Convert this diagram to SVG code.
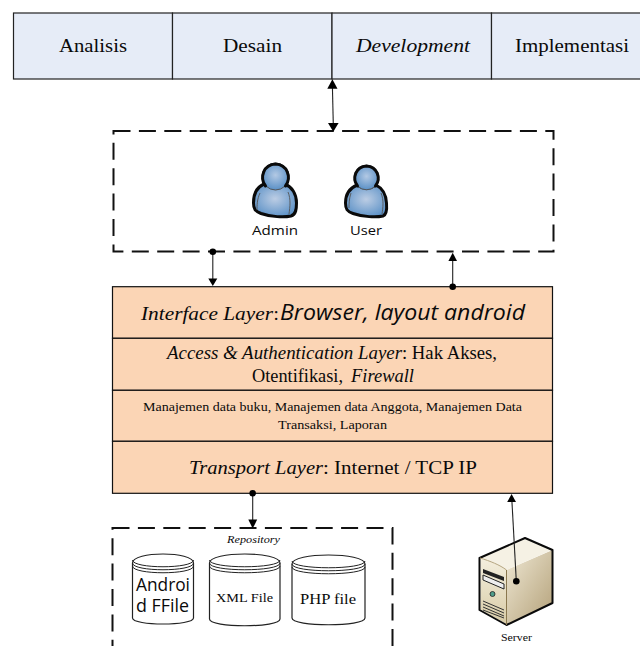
<svg xmlns="http://www.w3.org/2000/svg" width="640" height="646" viewBox="0 0 640 646">
<style>
text{font-family:"Liberation Serif","Times New Roman",serif;fill:#0a0a0a}
.i{font-style:italic}
.s{font-family:"Open Sans","DejaVu Sans",sans-serif}
.t{font-size:18px}
.box{fill:#e6ecf7;stroke:#222;stroke-width:1.2}
.lay{fill:#fbd5b5;stroke:#111;stroke-width:1.2}
.dash{fill:none;stroke:#111;stroke-width:2;stroke-dasharray:17 8.4}
.c{stroke:#222;stroke-width:1.1;fill:none}
.h{fill:#000}
.cyl{fill:#fff;stroke:#222;stroke-width:1.2}
.cl{fill:none;stroke:#222;stroke-width:1}
.u{stroke:#0a0a0a;stroke-width:3;fill:url(#ub);stroke-linejoin:round}
.uh{stroke:#555;stroke-width:1;fill:url(#uh)}
.ua{stroke:#0a0a0a;stroke-width:3;fill:none;stroke-linecap:round}
.f{fill:none;stroke:#555;stroke-width:.9}
</style>
<defs>
<radialGradient id="ub" cx=".5" cy=".45" r=".6"><stop offset="0" stop-color="#bccde4"/><stop offset="1" stop-color="#5a90c6"/></radialGradient>
<radialGradient id="uh" cx=".5" cy=".45" r=".55"><stop offset="0" stop-color="#b3c9e4"/><stop offset="1" stop-color="#5a90c6"/></radialGradient>
<linearGradient id="sf" x1="0" y1="0" x2="0" y2="1"><stop offset="0" stop-color="#f4efde"/><stop offset="1" stop-color="#d8cba6"/></linearGradient>
<linearGradient id="ss" x1="0" y1="0" x2="1" y2="1"><stop offset="0" stop-color="#efe8d4"/><stop offset="1" stop-color="#b3a078"/></linearGradient>
</defs>

<g id="phase-analisis"><rect class="box" x="13.500" y="13" width="159" height="66"/><text class="t" x="59" y="52" textLength="68" lengthAdjust="spacingAndGlyphs">Analisis</text></g>
<g id="phase-desain"><rect class="box" x="172.500" y="13" width="159.500" height="66"/><text class="t" x="223" y="52" textLength="59" lengthAdjust="spacingAndGlyphs">Desain</text></g>
<g id="phase-development"><rect class="box" x="332" y="13" width="159.500" height="66"/><text class="t i" x="356" y="52" textLength="114" lengthAdjust="spacingAndGlyphs">Development</text></g>
<g id="phase-implementasi"><rect class="box" x="491.500" y="13" width="149.500" height="66"/><text class="t" x="515" y="52" textLength="114" lengthAdjust="spacingAndGlyphs">Implementasi</text></g>

<g id="actors">
<rect class="dash" x="113.500" y="131" width="440" height="120.500"/>
</g>
<g id="admin">
<path class="u" d="M264 184C257 187 253.500 193 253.500 203C253.500 209 255 211 261 213.500C271 217 284 217.500 291 216C296 214.500 296.500 209 296.500 203C296.500 194 292 187 285 184C279 188 271 188 264 184Z"/>
<circle class="uh" cx="275.500" cy="176.500" r="13.500"/>
<path class="ua" d="M265.500 186C259 177 264 164.500 275.500 164C287 164.500 292 177 285.500 186"/>
<path class="f" d="M260 193C257 199 257 206 257 210M288 192C291 199 290 207 289 214"/>
<text class="s" x="252" y="235" font-size="13.500" textLength="46" lengthAdjust="spacingAndGlyphs">Admin</text>
</g>
<g id="user">
<path class="u" d="M357 185C350 188 345.500 194 345.500 203C345.500 209 347 211.500 353 213.500C363 217 376 217.500 383 216C387 214.500 387 209 386.500 203C386 194 382 188 376 185C370 189 363 189 357 185Z"/>
<circle class="uh" cx="366.500" cy="177.500" r="12.300"/>
<path class="ua" d="M357.500 186C351.500 178 356 166.500 366.500 166C377 166.500 381.500 178 375.500 186"/>
<path class="f" d="M351 193C349 199 349 204 349 208M381 193C384 200 383 208 382 214"/>
<text class="s" x="350" y="235" font-size="13.500" textLength="32" lengthAdjust="spacingAndGlyphs">User</text>
</g>

<g id="layer-interface"><rect class="lay" x="112.500" y="286.700" width="440" height="51.600"/>
<text class="i" x="141" y="319.500" font-size="19" textLength="132" lengthAdjust="spacingAndGlyphs">Interface Layer</text>
<text x="273.500" y="319.500" font-size="19">:</text>
<text class="s i" x="280" y="319.500" font-size="21.500" textLength="245" lengthAdjust="spacingAndGlyphs">Browser, layout android</text></g>
<g id="layer-access"><rect class="lay" x="112.500" y="338.300" width="440" height="52"/>
<text class="i" x="167" y="359" font-size="18" textLength="235" lengthAdjust="spacingAndGlyphs">Access &amp; Authentication Layer</text>
<text x="402" y="359" font-size="18" textLength="95" lengthAdjust="spacingAndGlyphs">: Hak Akses,</text>
<text x="252" y="381.700" font-size="18" textLength="91" lengthAdjust="spacingAndGlyphs">Otentifikasi,</text>
<text class="i" x="351" y="381.700" font-size="18" textLength="63" lengthAdjust="spacingAndGlyphs">Firewall</text></g>
<g id="layer-manajemen"><rect class="lay" x="112.500" y="390.300" width="440" height="51"/>
<text x="143" y="411" font-size="13.500" textLength="379" lengthAdjust="spacingAndGlyphs">Manajemen data buku, Manajemen data Anggota, Manajemen Data</text>
<text x="278" y="429" font-size="13.500" textLength="109" lengthAdjust="spacingAndGlyphs">Transaksi, Laporan</text></g>
<g id="layer-transport"><rect class="lay" x="112.500" y="441.300" width="440" height="52"/>
<text class="i" x="189" y="474" font-size="19" textLength="134" lengthAdjust="spacingAndGlyphs">Transport Layer</text>
<text x="323" y="474" font-size="19" textLength="154" lengthAdjust="spacingAndGlyphs">: Internet / TCP IP</text></g>

<g id="repository">
<rect class="dash" x="112.500" y="528" width="280" height="140"/>
<text class="i" x="227" y="543" font-size="10.500" textLength="53" lengthAdjust="spacingAndGlyphs">Repository</text>
</g>
<g id="file-android">
<path class="cyl" d="M132.500 563C132.500 551 193.500 551 193.500 563V618C193.500 626 132.500 626 132.500 618Z"/>
<path class="cl" d="M132.500 563C132.500 572 193.500 572 193.500 563M132.500 566C132.500 575 193.500 575 193.500 566M132.500 560C132.500 569 193.500 569 193.500 560"/>
<text class="s" x="136" y="590.700" font-size="19" textLength="54" lengthAdjust="spacingAndGlyphs">Androi</text>
<text class="s" x="136" y="611.700" font-size="19" textLength="53" lengthAdjust="spacingAndGlyphs">d FFile</text>
</g>
<g id="file-xml">
<path class="cyl" d="M209.500 563C209.500 551 280 551 280 563V619C280 628 209.500 628 209.500 619Z"/>
<path class="cl" d="M209.500 563C209.500 572 280 572 280 563M209.500 566C209.500 575 280 575 280 566M209.500 560C209.500 569 280 569 280 560"/>
<text x="216" y="602" font-size="13.500" textLength="57" lengthAdjust="spacingAndGlyphs">XML File</text>
</g>
<g id="file-php">
<path class="cyl" d="M292 564C292 552 365 552 365 564V618C365 627 292 627 292 618Z"/>
<path class="cl" d="M292 564C292 573 365 573 365 564M292 567C292 576 365 576 365 567M292 561C292 570 365 570 365 561"/>
<text x="300" y="604" font-size="15" textLength="56" lengthAdjust="spacingAndGlyphs">PHP file</text>
</g>

<g id="server">
<path d="M506.500 570L552.500 550V603L506.500 625Z" fill="url(#ss)"/>
<path d="M480.500 558.500C490 561 500 565 506.500 570V624L480.500 609.500Z" fill="url(#sf)"/>
<path d="M480 558L525 538.500L552 550L506.500 570C500 565 490 561 480 558Z" fill="#f5f1e4"/>
<path d="M479.500 558L525 538L552.500 550V603L506.500 625L479.500 610Z" fill="none" stroke="#0a0a0a" stroke-width="2" stroke-linejoin="round"/>
<path d="M480 558C490 561 500 565 506.500 570" stroke="#b5a57f" stroke-width="1" fill="none"/>
<path d="M506.500 570V625" stroke="#8a784f" stroke-width="1" fill="none"/>
<path d="M483 569L504 577V581L483 573Z" fill="#222"/>
<path d="M483 575L504 584V589L483 580Z" fill="#eee" stroke="#222" stroke-width="1"/>
<circle cx="492.500" cy="594" r="2.500" fill="#4f9d8a" stroke="#222" stroke-width=".8"/>
<path d="M483 604L504 613M483 607L504 616M483 610L504 618M483 601L504 610" stroke="#333" stroke-width="1" fill="none"/>
<text x="501" y="641" font-size="11" textLength="31" lengthAdjust="spacingAndGlyphs">Server</text>
</g>

<g id="connectors">
<line class="c" x1="332.400" y1="86" x2="333.300" y2="125"/>
<path class="h" d="M332.400 79.300L337.500 88.800H327.300Z"/>
<path class="h" d="M333.300 131.800L328 123H338.600Z"/>
<line class="c" x1="212.800" y1="252" x2="212.800" y2="280"/>
<circle class="h" cx="212.800" cy="251.800" r="3.300"/>
<path class="h" d="M212.800 286L208.300 278.500H217.300Z"/>
<line class="c" x1="452.700" y1="258" x2="452.700" y2="286"/>
<circle class="h" cx="452.700" cy="286.700" r="3.300"/>
<path class="h" d="M452.700 252.700L457 261H448.400Z"/>
<line class="c" x1="252.700" y1="493" x2="252.700" y2="522"/>
<circle class="h" cx="252.700" cy="493.300" r="3.300"/>
<path class="h" d="M252.700 528.500L248.300 519.500H257.200Z"/>
<line class="c" x1="516.300" y1="581" x2="511.800" y2="499"/>
<circle class="h" cx="516.300" cy="581.300" r="3.300"/>
<path class="h" d="M511.600 494L516 502H507.200Z"/>
</g>
</svg>
